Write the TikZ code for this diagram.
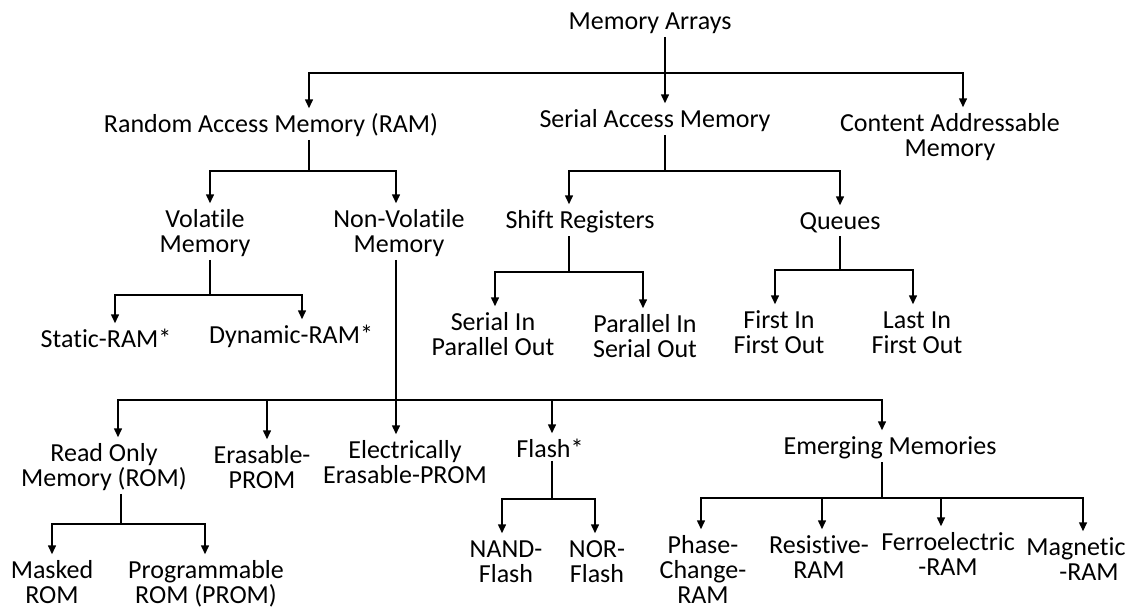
\documentclass[tikz,border=0pt]{standalone}
\usepackage{fontspec}
\setmainfont{Carlito}[Ligatures=NoCommon]
\usetikzlibrary{arrows.meta}

\begin{document}
\begin{tikzpicture}[
      x=0.5pt, y=-0.5pt,
      >={Triangle[width=4pt,length=4.5pt]},
      item/.style={anchor=base, text width=180pt, align=flush center, inner xsep=0pt, inner ysep=1.5pt, text height=10pt},
      every node/.style={font=\fontsize{13}{12.5}\selectfont},
      every path/.style={line width=0.75pt}
    ]
    \useasboundingbox (0,0) rectangle (1140,607);

    % Raiz
    \node[item] (ma) at (650,29) {Memory Arrays};

    % Nivel 1
    \node[item] (ram) at (271,132) {Random Access Memory (RAM)};
    \node[item] (sam) at (655,127) {Serial Access Memory};
    \node[item] (cam) at (950,131) {Content Addressable\\Memory};

    % Nivel 2
    \node[item] (vol) at (205,227) {Volatile\\Memory};
    \node[item] (nvol) at (399,227) {Non-Volatile\\Memory};
    \node[item] (shift) at (580,228) {Shift Registers};
    \node[item] (queue) at (840,229) {Queues};

    % Nivel 3
    \node[item] (sram) at (106,347) {Static-RAM*};
    \node[item] (dram) at (291,343) {Dynamic-RAM*};
    \node[item] (sipo) at (493,330) {Serial In\\Parallel Out};
    \node[item] (piso) at (645,332) {Parallel In\\Serial Out};
    \node[item] (fifo) at (779,328) {First In\\First Out};
    \node[item] (lifo) at (917,328) {Last In\\First Out};

    % Nivel 4 (no volatil)
    \node[item] (rom) at (104,461) {Read Only\\Memory (ROM)};
    \node[item] (eprom) at (262,463) {Erasable-\\PROM};
    \node[item] (eeprom) at (405,458) {Electrically\\Erasable-PROM};
    \node[item] (flash) at (550,457) {Flash*};
    \node[item] (emrg) at (890,454) {Emerging Memories};

    % Nivel 5
    \node[item] (mrom) at (52,578) {Masked\\ROM};
    \node[item] (prom) at (206,578) {Programmable\\ROM (PROM)};
    \node[item] (nand) at (506,557) {NAND-\\Flash};
    \node[item] (nor) at (597,557) {NOR-\\Flash};
    \node[item] (pcram) at (703,553) {Phase-\\Change-\\RAM};
    \node[item] (reram) at (819,553) {Resistive-\\RAM};
    \node[item] (feram) at (948,550) {Ferroelectric\\-RAM};
    \node[item] (mram) at (1076,555) {Magnetic\\\hspace*{1em}-RAM};

    % Memory Arrays
    \coordinate (j0) at (665,73);
    \draw[->] ([xshift=7.5pt]ma.south) -- ([xshift=5pt]sam.north);
    \draw[->] (j0) -| ([xshift=19pt]ram.north);
    \draw[->] (j0) -| ([xshift=6.5pt]cam.north);

    % RAM
    \coordinate (j1) at (309,171);
    \draw ([xshift=19pt]ram.south) -- (j1);
    \draw[->] (j1) -| ([xshift=2.5pt]vol.north);
    \draw[->] (j1) -| ([xshift=-1.5pt]nvol.north);

    % Serial
    \coordinate (j2) at (665,171);
    \draw ([xshift=5pt]sam.south) -- (j2);
    \draw[->] (j2) -| ([xshift=-5.5pt]shift.north);
    \draw[->] (j2) -| (queue.north);

    % Volatil
    \coordinate (j3) at (210,295);
    \draw ([xshift=2.5pt]vol.south) -- (j3);
    \draw[->] (j3) -| ([xshift=4.5pt]sram.north);
    \draw[->] (j3) -| ([xshift=5.5pt]dram.north);

    % No volatil
    \coordinate (j4) at (396,400);
    \draw ([xshift=-1.5pt]nvol.south) -- (j4);
    \draw[->] (j4) -| ([xshift=7pt]rom.north);
    \draw[->] (j4) -| ([xshift=2.5pt]eprom.north);
    \draw[->] (j4) -- ([xshift=-4.5pt]eeprom.north);
    \draw[->] (j4) -| ([xshift=1pt]flash.north);
    \draw[->] (j4) -| ([xshift=-4pt]emrg.north);

    % Shift Registers
    \coordinate (j5) at (569,272);
    \draw ([xshift=-5.5pt]shift.south) -- (j5);
    \draw[->] (j5) -| ([xshift=1pt]sipo.north);
    \draw[->] (j5) -| ([xshift=-1pt]piso.north);

    % Queues
    \coordinate (j6) at (840,270);
    \draw (queue.south) -- (j6);
    \draw[->] (j6) -| ([xshift=-2pt]fifo.north);
    \draw[->] (j6) -| ([xshift=-2pt]lifo.north);

    % ROM
    \coordinate (j7) at (121,524);
    \draw ([xshift=8.5pt]rom.south) -- (j7);
    \draw[->] (j7) -| (mrom.north);
    \draw[->] (j7) -| ([xshift=-0.5pt]prom.north);

    % Flash
    \coordinate (j8) at (552,499);
    \draw ([xshift=1pt]flash.south) -- (j8);
    \draw[->] (j8) -| ([xshift=-2pt]nand.north);
    \draw[->] (j8) -| ([xshift=-1pt]nor.north);

    % Emerging
    \coordinate (j9) at (882,498);
    \draw ([xshift=-4pt]emrg.south) -- (j9);
    \draw[->] (j9) -| ([xshift=-1pt]pcram.north);
    \draw[->] (j9) -| ([xshift=1.5pt]reram.north);
    \draw[->] (j9) -| ([xshift=-3.5pt]feram.north);
    \draw[->] (j9) -| ([xshift=3.5pt]mram.north);

  \end{tikzpicture}
\end{document}
